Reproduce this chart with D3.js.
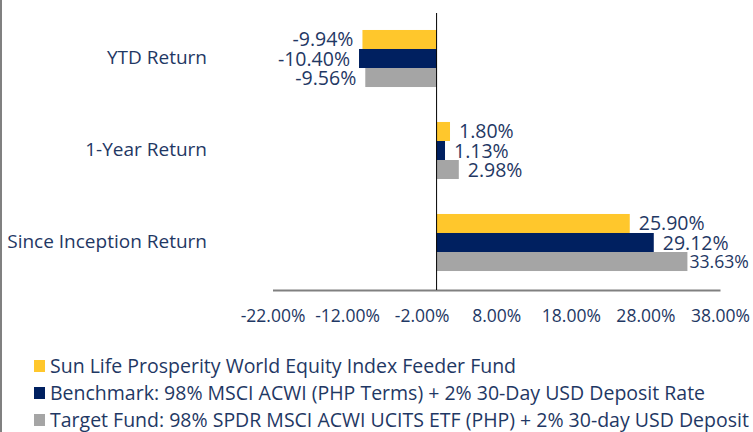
<!DOCTYPE html>
<html><head><meta charset="utf-8">
<script src="https://cdn.jsdelivr.net/npm/d3@7"></script>
<style>
html,body{margin:0;padding:0;background:#fff;}
svg{display:block;}
text{font-family:'Open Sans','Noto Sans',sans-serif;fill:#1F3864;}
</style></head>
<body><svg id="c" width="753" height="432"></svg>
<script>
const categories = ["YTD Return", "1-Year Return", "Since Inception Return"];
const seriesNames = [
  "Sun Life Prosperity World Equity Index Feeder Fund",
  "Benchmark: 98% MSCI ACWI (PHP Terms) + 2% 30-Day USD Deposit Rate",
  "Target Fund: 98% SPDR MSCI ACWI UCITS ETF (PHP) + 2% 30-day USD Deposit"
];
const fundValues = [-9.94, 1.80, 25.90];
const benchmarkValues = [-10.40, 1.13, 29.12];
const targetValues = [-9.56, 2.98, 33.63];
const tickValues = [-22, -12, -2, 8, 18, 28, 38];
const colors = ["#FFC72C", "#002060", "#A5A5A5"];

const series = [fundValues, benchmarkValues, targetValues];
const svg = d3.select("#c");

const x = d3.scaleLinear().domain([-22, 38]).range([272.5, 720]);
const y = d3.scaleBand().domain(categories).range([12.5, 288.5]).paddingInner(0.38).paddingOuter(0.19);
const ys = d3.scaleBand().domain(d3.range(series.length)).range([0, y.bandwidth()]);

// left frame line
svg.append("line").attr("x1", 1).attr("x2", 1).attr("y1", 0).attr("y2", 432)
  .attr("stroke", "#808080").attr("stroke-width", 2);

// bars
series.forEach((vals, si) => {
  const g = svg.append("g");
  g.selectAll("rect").data(vals).join("rect")
    .attr("x", d => x(Math.min(0, d)))
    .attr("width", d => Math.abs(x(d) - x(0)))
    .attr("y", (d, i) => y(categories[i]) + ys(si))
    .attr("height", ys.bandwidth())
    .attr("fill", colors[si]);
  g.selectAll("text").data(vals).join("text")
    .attr("x", d => d < 0 ? x(d) - 9 : x(d) + 9)
    .attr("y", (d, i) => y(categories[i]) + ys(si) + ys.bandwidth() / 2 + 7)
    .attr("text-anchor", d => d < 0 ? "end" : "start")
    .attr("font-size", 19.5)
    .text(d => d.toFixed(2) + "%")
    .each(function (d) {
      if (d >= 0) {
        const w = this.getComputedTextLength();
        const rightEdge = 749;
        if (x(d) + 9 + w > rightEdge) {
          const sx = x(d) + 2;
          const fs = 19.5 * (rightEdge - sx) / w;
          this.setAttribute("x", sx);
          this.setAttribute("font-size", fs);
          this.setAttribute("y", +this.getAttribute("y") - 0.5);
        }
      }
    });
});

// x axis
const xAxis = d3.axisBottom(x).tickValues(tickValues).tickSize(0).tickSizeOuter(0)
  .tickFormat(d => d.toFixed(2) + "%");
const ax = svg.append("g").attr("transform", "translate(0,290)").call(xAxis);
ax.select(".domain").attr("stroke", "#808080").attr("stroke-width", 2);
ax.selectAll("text").attr("font-size", 17.5).attr("dy", 0).attr("y", 32)
  .attr("font-family", "'Open Sans','Noto Sans',sans-serif").attr("fill", "#1F3864");

// zero line
svg.append("line").attr("x1", x(0)).attr("x2", x(0)).attr("y1", 13).attr("y2", 290)
  .attr("stroke", "#000").attr("stroke-width", 1);

// category labels
svg.append("g").selectAll("text").data(categories).join("text")
  .attr("x", 207).attr("y", d => y(d) + y.bandwidth() / 2 + 5)
  .attr("text-anchor", "end").attr("font-size", 19).text(d => d);

// legend
const lg = svg.append("g");
seriesNames.forEach((name, i) => {
  const cy = 366 + i * 27;
  lg.append("rect").attr("x", 34).attr("y", cy - 6).attr("width", 11).attr("height", 12).attr("fill", colors[i]);
  lg.append("text").attr("x", 50).attr("y", cy + 7).attr("font-size", 19.5).text(name);
});
</script></body></html>
